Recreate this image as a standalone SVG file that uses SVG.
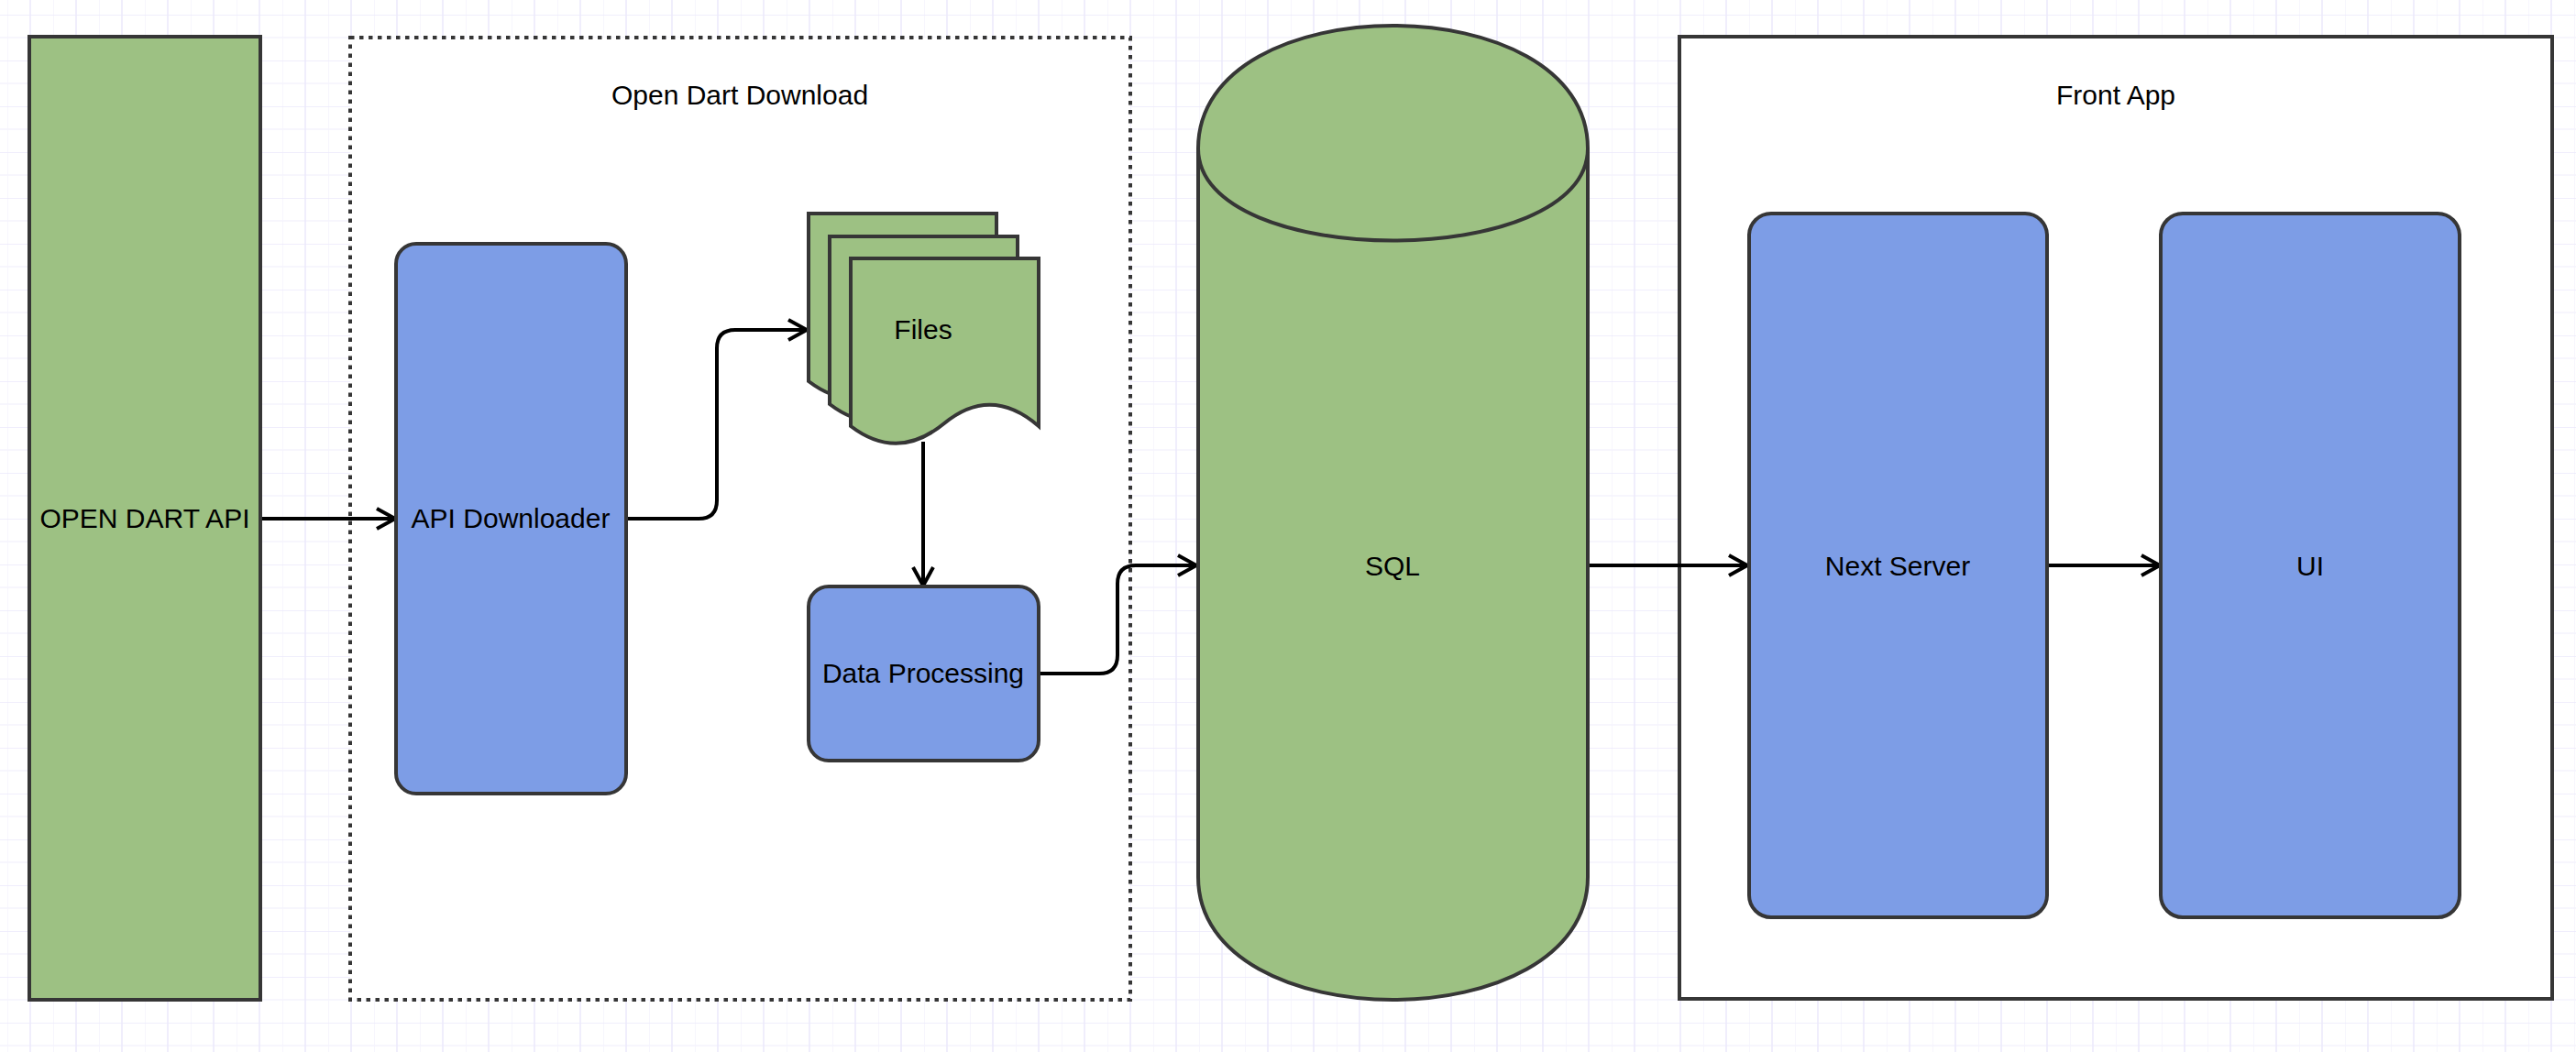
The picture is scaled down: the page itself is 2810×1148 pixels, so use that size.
<svg xmlns="http://www.w3.org/2000/svg" width="2810" height="1148" viewBox="0 0 2810 1148">
  <style>
    .lbl { font-family: "Liberation Sans", Arial, sans-serif; font-size: 30px; fill: #000; text-anchor: middle; }
    .green { fill: #9dc183; stroke: #363636; stroke-width: 4; }
    .blue { fill: #7d9de6; stroke: #363636; stroke-width: 4; }
    .edge { fill: none; stroke: #000; stroke-width: 4; marker-end: url(#arr); }
  </style>
  <defs>
    <pattern id="grid" x="8" y="16" width="50" height="50" patternUnits="userSpaceOnUse">
      <path d="M0,0 V50 M0,25 H50" stroke="#f5f4fd" stroke-width="1.5" fill="none"/>
      <path d="M25,0 V50 M0,0 H50" stroke="#ebe9fb" stroke-width="1.5" fill="none"/>
    </pattern>
    <marker id="arr" markerUnits="userSpaceOnUse" markerWidth="40" markerHeight="40" viewBox="-30 -20 40 40" refX="0" refY="0" orient="auto">
      <path d="M-21,-11 L-1,0 L-21,11" fill="none" stroke="#000" stroke-width="4"/>
    </marker>
  </defs>
  <rect x="0" y="0" width="2810" height="1148" fill="#ffffff"/>
  <rect x="0" y="0" width="2810" height="1148" fill="url(#grid)"/>

  <g id="open-dart-download">
    <rect x="382" y="41" width="851" height="1050" fill="#ffffff" stroke="#363636" stroke-width="4" stroke-dasharray="4.5 5.5"/>
    <text class="lbl" x="807" y="114">Open Dart Download</text>
  </g>
  <g id="front-app">
    <rect x="1832" y="40" width="952" height="1050" fill="#ffffff" stroke="#363636" stroke-width="4"/>
    <text class="lbl" x="2308" y="114">Front App</text>
  </g>

  <g id="connectors">
    <path class="edge" d="M284,566 H432"/>
    <path class="edge" d="M683,566 H762 Q782,566 782,546 V380 Q782,360 802,360 H881"/>
    <path class="edge" d="M1007,482 V640"/>
    <path class="edge" d="M1133,735 H1199 Q1219,735 1219,715 V637 Q1219,617 1239,617 H1306"/>
    <path class="edge" d="M1732,617 H1907"/>
    <path class="edge" d="M2233,617 H2357"/>
  </g>

  <g id="open-dart-api">
    <rect class="green" x="32" y="40" width="252" height="1051"/>
    <text class="lbl" x="158" y="576">OPEN DART API</text>
  </g>
  <g id="api-downloader">
    <rect class="blue" x="432" y="266" width="251" height="600" rx="22" ry="22"/>
    <text class="lbl" x="557" y="576">API Downloader</text>
  </g>
  <g id="files">
    <path class="green" d="M882,233 H1087 V416 Q1035,371 984,413 Q933,455 882,416 Z"/>
    <path class="green" d="M905,258 H1110 V441 Q1058,396 1007,438 Q956,480 905,441 Z"/>
    <path class="green" d="M928,282 H1133 V465 Q1081,420 1030,462 Q979,504 928,465 Z"/>
    <text class="lbl" x="1007" y="370">Files</text>
  </g>
  <g id="data-processing">
    <rect class="blue" x="882" y="640" width="251" height="190" rx="22" ry="22"/>
    <text class="lbl" x="1007" y="745">Data Processing</text>
  </g>
  <g id="sql">
    <path class="green" d="M1307,162 C1307,-16.7 1732,-16.7 1732,162 V957 C1732,1135.7 1307,1135.7 1307,957 Z"/>
    <path d="M1307,162 C1307,296 1732,296 1732,162" fill="none" stroke="#363636" stroke-width="4"/>
    <text class="lbl" x="1519" y="628">SQL</text>
  </g>
  <g id="next-server">
    <rect class="blue" x="1908" y="233" width="325" height="768" rx="24" ry="24"/>
    <text class="lbl" x="2070" y="628">Next Server</text>
  </g>
  <g id="ui">
    <rect class="blue" x="2357" y="233" width="326" height="768" rx="24" ry="24"/>
    <text class="lbl" x="2520" y="628">UI</text>
  </g>
</svg>
